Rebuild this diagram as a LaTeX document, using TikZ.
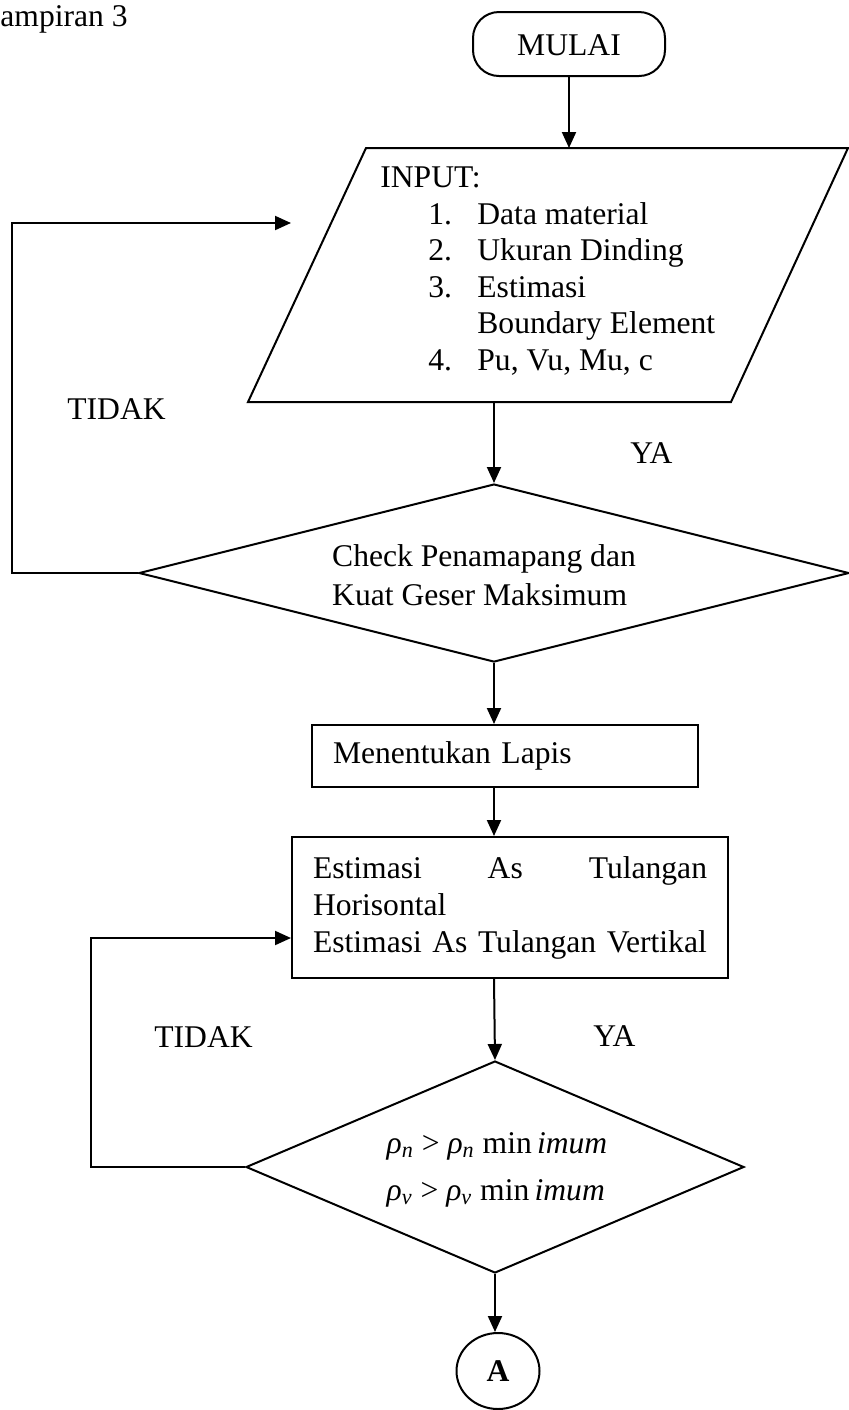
\documentclass[tikz,border=0pt]{standalone}
\usepackage{fontspec}
\setmainfont{Liberation Serif}
\usetikzlibrary{arrows.meta,shapes.geometric}
\newcommand\myfs{\fontsize{15.8pt}{18.5pt}\selectfont}
\begin{document}
\begin{tikzpicture}[x=0.5pt,y=-0.5pt,
  every node/.style={font=\myfs},
  ln/.style={line width=1pt},
  arr/.style={line width=1pt,-{Triangle[length=8pt,width=7pt]}},
  txt/.style={inner sep=0pt,anchor=base west},
  procbox/.style={draw,line width=1pt,inner ysep=0pt,inner xsep=10.5pt,align=left},
  decision/.style={draw,diamond,line width=1pt,inner sep=0pt},
]
\useasboundingbox (0,0) rectangle (849,1410);

% title
\node[txt] (lamp) at (0,26) {ampiran 3};

% start
\node[draw,line width=1pt,rounded corners=13pt,minimum width=96pt,minimum height=32pt,inner sep=0pt,text height=11pt,text depth=0pt] (mulai) at (569,44) {MULAI};

% input parallelogram
\draw[ln] (366,148) -- (848,148) -- (731,402) -- (248,402) -- cycle;
\coordinate (inTop) at (569,148);
\coordinate (inBot) at (494,402);
\node[txt] (inp) at (380,187) {INPUT:};
\node[txt] (n1) at (428,224) {1.};
\node[txt] (t1) at (477,224) {Data material};
\node[txt] (n2) at (428,260) {2.};
\node[txt] (t2) at (477,260) {Ukuran Dinding};
\node[txt] (n3) at (428,297) {3.};
\node[txt] (t3) at (477,297) {Estimasi};
\node[txt] (t3b) at (477,333) {Boundary Element};
\node[txt] (n4) at (428,370) {4.};
\node[txt] (t4) at (477,370) {Pu, Vu, Mu, c};

% decision 1
\node[decision,minimum width=355pt,minimum height=89pt] (cek) at (494,573) {};
\node[align=left,inner sep=0pt] (cektxt) at (484,575) {Check Penamapang dan\\[1pt]Kuat Geser Maksimum};

% process boxes
\node[procbox,text width=172pt,minimum height=31pt] (lapis) at (505,756) {Menentukan Lapis};
\node[procbox,text width=197pt,minimum height=70.5pt] (est) at (510,907.5)
  {\leavevmode\hbox to 197pt{Estimasi\hfill As\hfill Tulangan}\\Horisontal\\Estimasi As Tulangan Vertikal};

% decision 2
\node[decision,minimum width=249pt,minimum height=106pt] (cek2) at (495,1167) {};
\node[align=left,inner sep=0pt] (cek2txt) at (497,1170)
  {\textit{ρ}\textsubscript{\textit{n}} > \textit{ρ}\textsubscript{\textit{n}} min\,\textit{imum}\\[5pt]
   \textit{ρ}\textsubscript{\textit{v}} > \textit{ρ}\textsubscript{\textit{v}} min\,\textit{imum}};

% connector A
\node[draw,ellipse,line width=1pt,minimum width=41.5pt,minimum height=38pt,inner sep=0pt,font=\myfs\bfseries] (A) at (498,1371) {A};

% labels
\node[txt] (tidak1) at (67,419) {TIDAK};
\node[txt] (ya1) at (630,463) {YA};
\node[txt] (tidak2) at (154,1047) {TIDAK};
\node[txt] (ya2) at (593,1046) {YA};

% connectors
\draw[arr] (mulai.south) -- (inTop);
\draw[arr] (inBot) -- (cek.north);
\coordinate (fb1) at (12,573);
\coordinate (fb1end) at (291,223);
\draw[arr] (cek.west) -- (fb1) |- (fb1end);
\draw[arr] (cek.south) -- (cek.south |- lapis.north);
\draw[arr] (cek.south |- lapis.south) -- (cek.south |- est.north);
\draw[arr] (cek.south |- est.south) -- (cek2.north);
\coordinate (fb2) at (91,1167);
\draw[arr] (cek2.west) -- (fb2) |- ([yshift=-15.25pt]est.west);
\draw[arr] (cek2.south) -- (cek2.south |- A.north);
\end{tikzpicture}
\end{document}
